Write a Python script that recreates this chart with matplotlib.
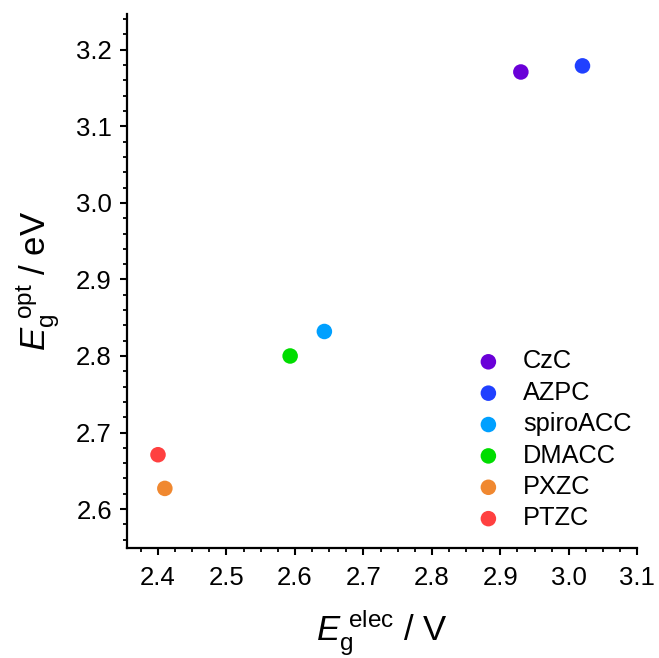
import matplotlib
matplotlib.use("Agg")
import matplotlib.pyplot as plt
from matplotlib.ticker import MultipleLocator, FormatStrFormatter

plt.rcParams['font.family'] = ['Liberation Sans', 'DejaVu Sans']
plt.rcParams['mathtext.fontset'] = 'custom'
plt.rcParams['mathtext.rm'] = 'Liberation Sans'
plt.rcParams['mathtext.it'] = 'Liberation Sans:italic'

names = ['CzC', 'AZPC', 'spiroACC', 'DMACC', 'PXZC', 'PTZC']
eg_elec = [2.93, 3.02, 2.643, 2.593, 2.41, 2.40]
eg_opt = [3.171, 3.179, 2.832, 2.80, 2.627, 2.671]
colors = ['#6A00D8', '#2040FF', '#00A0FF', '#00DD00', '#F08830', '#FF4040']

fig = plt.figure(figsize=(6.59, 6.58), dpi=100)
ax = fig.add_axes([0.193, 0.167, 0.774, 0.812])

for n, x, y, c in zip(names, eg_elec, eg_opt, colors):
    ax.scatter([x], [y], s=125, color=c, label=n, edgecolors='none', zorder=3)

ax.set_xlim(2.355, 3.1)
ax.set_ylim(2.549, 3.247)
ax.xaxis.set_major_locator(MultipleLocator(0.1))
ax.xaxis.set_minor_locator(MultipleLocator(0.025))
ax.yaxis.set_major_locator(MultipleLocator(0.1))
ax.yaxis.set_minor_locator(MultipleLocator(0.02))
ax.xaxis.set_major_formatter(FormatStrFormatter('%.1f'))
ax.yaxis.set_major_formatter(FormatStrFormatter('%.1f'))

for s in ['top', 'right']:
    ax.spines[s].set_visible(False)
for s in ['left', 'bottom']:
    ax.spines[s].set_linewidth(1.6)

ax.tick_params(which='major', direction='out', length=5, width=1.5, labelsize=18.5)
ax.tick_params(which='minor', direction='out', length=3, width=1.3)
ax.tick_params(axis='x', which='major', pad=8)
ax.tick_params(axis='y', which='major', pad=6)

ax.set_xlabel(r'$E_\mathrm{g}^{\ \mathrm{elec}}$ / V', fontsize=25, labelpad=13)
ax.set_ylabel(r'$E_\mathrm{g}^{\ \mathrm{opt}}$ / eV', fontsize=25, labelpad=10)

ax.legend(loc='lower right', bbox_to_anchor=(1.024, 0.0), frameon=False, fontsize=18.3,
          handletextpad=0.37, labelspacing=0.29, scatterpoints=1, borderaxespad=0.3)

fig.savefig('out.png', dpi=100)
